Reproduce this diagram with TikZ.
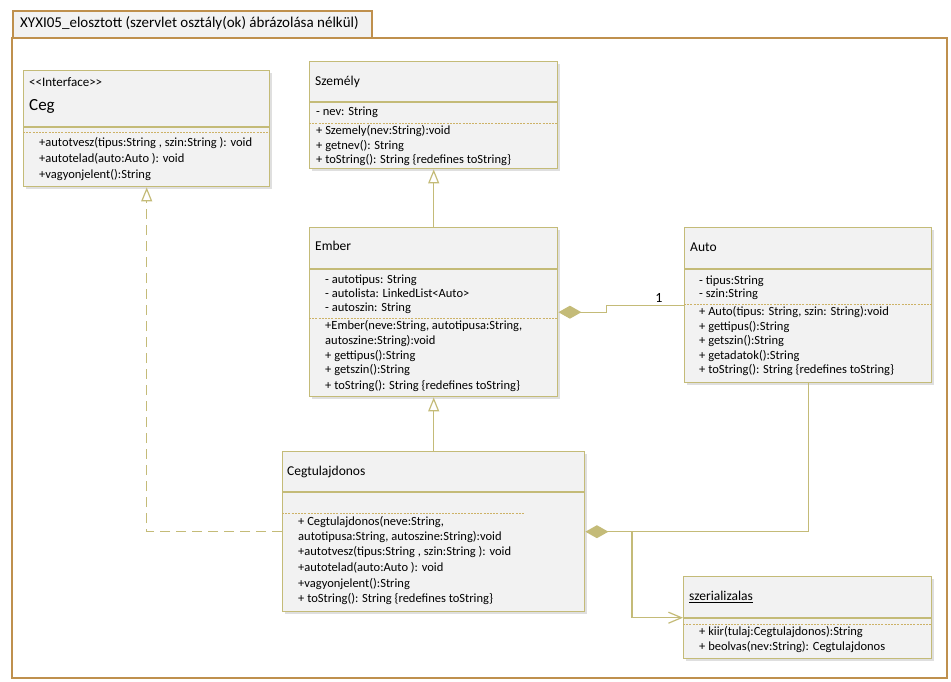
\documentclass[tikz,border=0pt]{standalone}
\usepackage{fontspec}
\setmainfont{Carlito}
\usetikzlibrary{shadows,arrows.meta}
\definecolor{framec}{RGB}{191,144,77}
\definecolor{olv}{RGB}{196,187,120}
\definecolor{bx}{RGB}{242,242,242}
\begin{document}
\begin{tikzpicture}[x=1pt,y=-1pt,
  cls/.style={draw=olv, fill=bx, line width=1.4pt, anchor=north west, inner sep=0pt,
    drop shadow={opacity=0.25, shadow xshift=2pt, shadow yshift=-2pt}},
  txt/.style={anchor=west, inner sep=0pt, text height=9pt, text depth=2.5pt, font=\fontsize{12.5}{14}\selectfont},
  hdr/.style={anchor=west, inner sep=0pt, text height=9pt, text depth=2.5pt, font=\fontsize{13.5}{15}\selectfont},
  sepl/.style={draw=olv, line width=1.4pt},
  dsep/.style={draw=olv!85!orange, line width=0.7pt, dash pattern=on 2pt off 1.2pt},
  conn/.style={draw=olv, line width=1.4pt},
  gen/.style={-{Triangle[fill=white, width=11pt, length=14pt, line width=1.2pt]}},
  comp/.style={{Diamond[fill=olv, width=13pt, length=23pt]}-},
]
\useasboundingbox (0,0) rectangle (951,681);

% frame
\node[draw=framec, fill=bx, line width=2pt, anchor=north west, inner sep=0pt,
  minimum width=359pt, minimum height=27pt] (tab) at (12,10) {};
\node[anchor=west, inner sep=0pt, text height=10.5pt, text depth=3pt, font=\fontsize{15}{17}\selectfont] (title) at (20,24)
  {XYXI05\_elosztott (szervlet osztály(ok) ábrázolása nélkül)};
\draw[framec, line width=2pt] (12,37) -- (12,678) -- (947,678) -- (947,38) -- (371,38);

% Ceg
\node[cls, minimum width=246pt, minimum height=116pt] (ceg) at (23,70) {};
\draw[sepl] (ceg.west |- 0,127) -- (ceg.east |- 0,127);
\draw[dsep] (ceg.west |- 0,132) -- (ceg.east |- 0,132);
\node[txt, font=\fontsize{13}{15}\selectfont] (c1) at (29,83) {{<}{<}Interface{>}{>}};
\node[anchor=west, inner sep=0pt, text height=11pt, text depth=3pt, font=\fontsize{17}{19}\selectfont] (c2) at (29,106) {Ceg};
\node[txt] (c3) at (39,143) {+autotvesz(tipus:String , szin:String ): void};
\node[txt] (c4) at (39,159) {+autotelad(auto:Auto ): void};
\node[txt] (c5) at (39,175) {+vagyonjelent():String};

% Szemely
\node[cls, minimum width=248pt, minimum height=107pt] (szem) at (309,61) {};
\draw[sepl] (szem.west |- 0,102) -- (szem.east |- 0,102);
\draw[dsep] (szem.west |- 0,123) -- (szem.east |- 0,123);
\node[hdr] (s0) at (315,82) {Személy};
\node[txt] (s1) at (316,112) {- nev: String};
\node[txt] (s2) at (316,131) {+ Szemely(nev:String):void};
\node[txt] (s3) at (316,146) {+ getnev(): String};
\node[txt] (s4) at (316,160) {+ toString(): String \{redefines toString\}};

% Ember
\node[cls, minimum width=248pt, minimum height=169pt] (ember) at (309,227) {};
\draw[sepl] (ember.west |- 0,269) -- (ember.east |- 0,269);
\draw[dsep] (ember.west |- 0,318) -- (ember.east |- 0,318);
\node[hdr] (e0) at (315,247) {Ember};
\node[txt] (e1) at (325,280) {- autotipus: String};
\node[txt] (e2) at (325,294) {- autolista: LinkedList<Auto>};
\node[txt] (e3) at (325,308) {- autoszin: String};
\node[txt] (e4) at (325,326) {+Ember(neve:String, autotipusa:String,};
\node[txt] (e5) at (325,341) {autoszine:String):void};
\node[txt] (e6) at (325,356) {+ gettipus():String};
\node[txt] (e7) at (325,370) {+ getszin():String};
\node[txt] (e8) at (325,386) {+ toString(): String \{redefines toString\}};

% Auto
\node[cls, minimum width=247pt, minimum height=155pt] (auto) at (684,227) {};
\draw[sepl] (auto.west |- 0,269) -- (auto.east |- 0,269);
\draw[dsep] (auto.west |- 0,304) -- (auto.east |- 0,304);
\node[hdr] (a0) at (690,248) {Auto};
\node[txt] (a1) at (699,281) {- tipus:String};
\node[txt] (a2) at (699,294) {- szin:String};
\node[txt] (a3) at (699,312) {+ Auto(tipus: String, szin: String):void};
\node[txt] (a4) at (699,327) {+ gettipus():String};
\node[txt] (a5) at (699,341) {+ getszin():String};
\node[txt] (a6) at (699,356) {+ getadatok():String};
\node[txt] (a7) at (699,370) {+ toString(): String \{redefines toString\}};

% Cegtulajdonos
\node[cls, minimum width=302pt, minimum height=160pt] (cegt) at (282,451) {};
\draw[sepl] (cegt.west |- 0,492) -- (cegt.east |- 0,492);
\draw[dsep] (cegt.west |- 0,513) -- (525,513);
\node[hdr] (t0) at (287,472) {Cegtulajdonos};
\node[txt] (t1) at (298,522) {+ Cegtulajdonos(neve:String,};
\node[txt] (t2) at (298,537) {autotipusa:String, autoszine:String):void};
\node[txt] (t3) at (298,552) {+autotvesz(tipus:String , szin:String ): void};
\node[txt] (t4) at (298,568) {+autotelad(auto:Auto ): void};
\node[txt] (t5) at (298,584) {+vagyonjelent():String};
\node[txt] (t6) at (298,599) {+ toString(): String \{redefines toString\}};

% szerializalas
\node[cls, minimum width=248pt, minimum height=82pt] (szer) at (683,576) {};
\draw[sepl] (szer.west |- 0,618) -- (szer.east |- 0,618);
\draw[dsep] (szer.west |- 0,624) -- (szer.east |- 0,624);
\node[hdr] (z0) at (689,597) {\underline{szerializalas}};
\node[txt] (z1) at (699,632) {+ kiir(tulaj:Cegtulajdonos):String};
\node[txt] (z2) at (699,647) {+ beolvas(nev:String): Cegtulajdonos};

% connectors
\draw[conn, gen] (ember.north) -- (szem.south);
\draw[conn, gen] (cegt.north) -- (ember.south);
\draw[conn, gen, dash pattern=on 10pt off 6pt] (cegt.west) -| (ceg.south);
\draw[conn, comp] (ember.east) -- ++(48,0) |- (auto.west);
\node[anchor=base, inner sep=0pt, font=\fontsize{14}{16}\selectfont] (one) at (659,302) {1};
\draw[conn, comp] (cegt.east) -| (auto.south);
\coordinate (jn) at (632,531);
\draw[conn, -{Straight Barb[length=13pt, width=11pt, line width=1.2pt]}] (jn) |- (szer.west);
\end{tikzpicture}
\end{document}
